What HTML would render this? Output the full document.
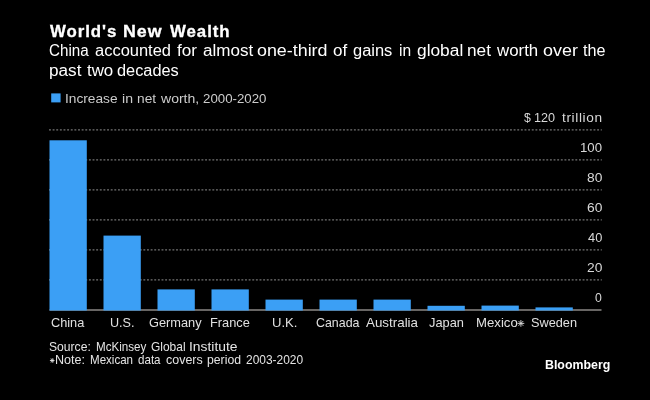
<!DOCTYPE html>
<html><head><meta charset="utf-8">
<style>
html,body{margin:0;padding:0;background:#000;}
body{width:650px;height:400px;position:relative;overflow:hidden;font-family:"Liberation Sans",sans-serif;color:#fff;}
.b{-webkit-text-stroke:0.3px #fff;}
.w{position:absolute;white-space:nowrap;line-height:1;transform-origin:0 0;display:block;}
svg{position:absolute;left:0;top:0;}
</style></head><body>
<svg width="650" height="400" viewBox="0 0 650 400">
<rect x="51.2" y="93.4" width="9.4" height="9.0" fill="#3b9ff5"/>
<line x1="49.0" x2="601.8" y1="129.8" y2="129.8" stroke="#747474" stroke-width="1.3" stroke-dasharray="1.9 1.73"/>
<line x1="49.0" x2="601.8" y1="159.8" y2="159.8" stroke="#747474" stroke-width="1.3" stroke-dasharray="1.9 1.73"/>
<line x1="49.0" x2="601.8" y1="189.8" y2="189.8" stroke="#747474" stroke-width="1.3" stroke-dasharray="1.9 1.73"/>
<line x1="49.0" x2="601.8" y1="219.8" y2="219.8" stroke="#747474" stroke-width="1.3" stroke-dasharray="1.9 1.73"/>
<line x1="49.0" x2="601.8" y1="249.8" y2="249.8" stroke="#747474" stroke-width="1.3" stroke-dasharray="1.9 1.73"/>
<line x1="49.0" x2="601.8" y1="279.9" y2="279.9" stroke="#747474" stroke-width="1.3" stroke-dasharray="1.9 1.73"/>
<line x1="49.5" x2="601.5" y1="310" y2="310" stroke="#cfcbc7" stroke-width="1.2"/>
<rect x="49.5" y="140.3" width="37.3" height="170.2" fill="#3b9ff5"/>
<rect x="103.5" y="235.6" width="37.3" height="74.9" fill="#3b9ff5"/>
<rect x="157.5" y="289.4" width="37.3" height="21.1" fill="#3b9ff5"/>
<rect x="211.5" y="289.4" width="37.3" height="21.1" fill="#3b9ff5"/>
<rect x="265.5" y="299.6" width="37.3" height="10.9" fill="#3b9ff5"/>
<rect x="319.5" y="299.6" width="37.3" height="10.9" fill="#3b9ff5"/>
<rect x="373.5" y="299.6" width="37.3" height="10.9" fill="#3b9ff5"/>
<rect x="427.5" y="305.8" width="37.3" height="4.7" fill="#3b9ff5"/>
<rect x="481.5" y="305.6" width="37.3" height="4.9" fill="#3b9ff5"/>
<rect x="535.5" y="307.4" width="37.3" height="3.1" fill="#3b9ff5"/>
<g stroke="#dcdcdc" stroke-width="0.9" stroke-linecap="round"><path d="M517.9 323.4H523.9M520.9 320.4V326.4M518.8 321.3L523 325.5M523 321.3L518.8 325.5"/></g>
<g stroke="#e4e4e4" stroke-width="0.9" stroke-linecap="round"><path d="M50.3 360.5H54.1M52.2 358.6V362.4M50.9 359.2L53.5 361.8M53.5 359.2L50.9 361.8"/></g>
</svg>
<div style="position:absolute;left:0;top:0;width:650px;height:400px;will-change:transform;">
<span class="w b" style="left:49.90px;top:24.10px;font-size:16px;font-weight:bold;letter-spacing:0.9px;color:#fff;transform:scaleX(1.0508)">World's</span>
<span class="w b" style="left:123.49px;top:24.10px;font-size:16px;font-weight:bold;letter-spacing:0.9px;color:#fff;transform:scaleX(1.1118)">New</span>
<span class="w b" style="left:169.80px;top:24.10px;font-size:16px;font-weight:bold;letter-spacing:0.9px;color:#fff;transform:scaleX(1.0518)">Wealth</span>
<span class="w" style="left:49.25px;top:43.20px;font-size:16px;color:#fff;transform:scaleX(0.9488)">China</span>
<span class="w" style="left:95.07px;top:43.20px;font-size:16px;color:#fff;transform:scaleX(1.0292)">accounted</span>
<span class="w" style="left:177.20px;top:43.20px;font-size:16px;color:#fff;transform:scaleX(1.0684)">for</span>
<span class="w" style="left:202.53px;top:43.20px;font-size:16px;color:#fff;transform:scaleX(1.0652)">almost</span>
<span class="w" style="left:257.28px;top:43.20px;font-size:16px;color:#fff;transform:scaleX(1.1164)">one-third</span>
<span class="w" style="left:332.74px;top:43.20px;font-size:16px;color:#fff;transform:scaleX(1.0615)">of</span>
<span class="w" style="left:352.57px;top:43.20px;font-size:16px;color:#fff;transform:scaleX(1.0270)">gains</span>
<span class="w" style="left:398.83px;top:43.20px;font-size:16px;color:#fff;transform:scaleX(0.9727)">in</span>
<span class="w" style="left:416.52px;top:43.20px;font-size:16px;color:#fff;transform:scaleX(1.0829)">global</span>
<span class="w" style="left:467.12px;top:43.20px;font-size:16px;color:#fff;transform:scaleX(1.0762)">net</span>
<span class="w" style="left:496.90px;top:43.20px;font-size:16px;color:#fff;transform:scaleX(1.0526)">worth</span>
<span class="w" style="left:542.68px;top:43.20px;font-size:16px;color:#fff;transform:scaleX(1.1200)">over</span>
<span class="w" style="left:582.90px;top:43.20px;font-size:16px;color:#fff;transform:scaleX(1.0091)">the</span>
<span class="w" style="left:49.13px;top:62.60px;font-size:16px;color:#fff;transform:scaleX(1.0724)">past</span>
<span class="w" style="left:86.80px;top:62.60px;font-size:16px;color:#fff;transform:scaleX(1.0542)">two</span>
<span class="w" style="left:117.48px;top:62.60px;font-size:16px;color:#fff;transform:scaleX(1.0203)">decades</span>
<span class="w" style="left:65.18px;top:91.80px;font-size:13.5px;color:#cccccc;transform:scaleX(1.0160)">Increase</span>
<span class="w" style="left:121.56px;top:91.80px;font-size:13.5px;color:#cccccc;transform:scaleX(1.0444)">in</span>
<span class="w" style="left:136.78px;top:91.80px;font-size:13.5px;color:#cccccc;transform:scaleX(1.0167)">net</span>
<span class="w" style="left:161.20px;top:91.80px;font-size:13.5px;color:#cccccc;transform:scaleX(1.0389)">worth,</span>
<span class="w" style="left:202.72px;top:91.80px;font-size:13.5px;color:#cccccc;transform:scaleX(0.9825)">2000-2020</span>
<span class="w" style="left:524.20px;top:110.70px;font-size:13px;color:#d8d8d8;transform:scaleX(0.9429)">$</span>
<span class="w" style="left:533.53px;top:110.70px;font-size:13px;color:#d8d8d8;transform:scaleX(0.9700)">120</span>
<span class="w" style="left:561.50px;top:110.70px;font-size:13px;letter-spacing:0.6px;color:#d8d8d8;transform:scaleX(1.0500)">trillion</span>
<span class="w" style="left:580.49px;top:140.70px;font-size:13px;color:#d8d8d8;transform:scaleX(1.0150)">100</span>
<span class="w" style="left:586.94px;top:170.70px;font-size:13px;color:#d8d8d8;transform:scaleX(1.0615)">80</span>
<span class="w" style="left:586.94px;top:200.70px;font-size:13px;color:#d8d8d8;transform:scaleX(1.0615)">60</span>
<span class="w" style="left:588.00px;top:230.70px;font-size:13px;color:#d8d8d8;transform:scaleX(0.9857)">40</span>
<span class="w" style="left:586.94px;top:260.70px;font-size:13px;color:#d8d8d8;transform:scaleX(1.0615)">20</span>
<span class="w" style="left:595.20px;top:290.70px;font-size:13px;color:#d8d8d8;transform:scaleX(0.9429)">0</span>
<span class="w" style="left:51.36px;top:316.00px;font-size:13.5px;color:#e0e0e0;transform:scaleX(0.9441)">China</span>
<span class="w" style="left:110.07px;top:316.00px;font-size:13.5px;color:#e0e0e0;transform:scaleX(0.9333)">U.S.</span>
<span class="w" style="left:149.05px;top:316.00px;font-size:13.5px;color:#e0e0e0;transform:scaleX(0.9473)">Germany</span>
<span class="w" style="left:209.95px;top:316.00px;font-size:13.5px;color:#e0e0e0;transform:scaleX(0.9488)">France</span>
<span class="w" style="left:271.83px;top:316.00px;font-size:13.5px;color:#e0e0e0;transform:scaleX(0.9667)">U.K.</span>
<span class="w" style="left:315.88px;top:316.00px;font-size:13.5px;color:#e0e0e0;transform:scaleX(0.9196)">Canada</span>
<span class="w" style="left:365.90px;top:316.00px;font-size:13.5px;color:#e0e0e0;transform:scaleX(0.9906)">Australia</span>
<span class="w" style="left:429.00px;top:316.00px;font-size:13.5px;color:#e0e0e0;transform:scaleX(0.9500)">Japan</span>
<span class="w" style="left:475.82px;top:316.00px;font-size:13.5px;color:#e0e0e0;transform:scaleX(0.9756)">Mexico</span>
<span class="w" style="left:531.36px;top:316.00px;font-size:13.5px;color:#e0e0e0;transform:scaleX(0.9426)">Sweden</span>
<span class="w" style="left:49.27px;top:340.00px;font-size:13px;color:#e4e4e4;transform:scaleX(0.9326)">Source:</span>
<span class="w" style="left:95.81px;top:340.00px;font-size:13px;color:#e4e4e4;transform:scaleX(0.8945)">McKinsey</span>
<span class="w" style="left:150.98px;top:340.00px;font-size:13px;color:#e4e4e4;transform:scaleX(0.9194)">Global</span>
<span class="w" style="left:189.33px;top:340.00px;font-size:13px;color:#e4e4e4;transform:scaleX(1.0659)">Institute</span>
<span class="w" style="left:55.13px;top:353.10px;font-size:13px;color:#e4e4e4;transform:scaleX(0.9655)">Note:</span>
<span class="w" style="left:90.11px;top:353.10px;font-size:13px;color:#e4e4e4;transform:scaleX(0.8894)">Mexican</span>
<span class="w" style="left:138.20px;top:353.10px;font-size:13px;color:#e4e4e4;transform:scaleX(0.8920)">data</span>
<span class="w" style="left:165.80px;top:353.10px;font-size:13px;color:#e4e4e4;transform:scaleX(0.9579)">covers</span>
<span class="w" style="left:207.16px;top:353.10px;font-size:13px;color:#e4e4e4;transform:scaleX(0.9400)">period</span>
<span class="w" style="left:245.68px;top:353.10px;font-size:13px;color:#e4e4e4;transform:scaleX(0.9180)">2003-2020</span>
<span class="w" style="left:545.21px;top:358.70px;font-size:12.5px;font-weight:bold;color:#fff;transform:scaleX(0.9891)">Bloomberg</span>
</div>
</body></html>
